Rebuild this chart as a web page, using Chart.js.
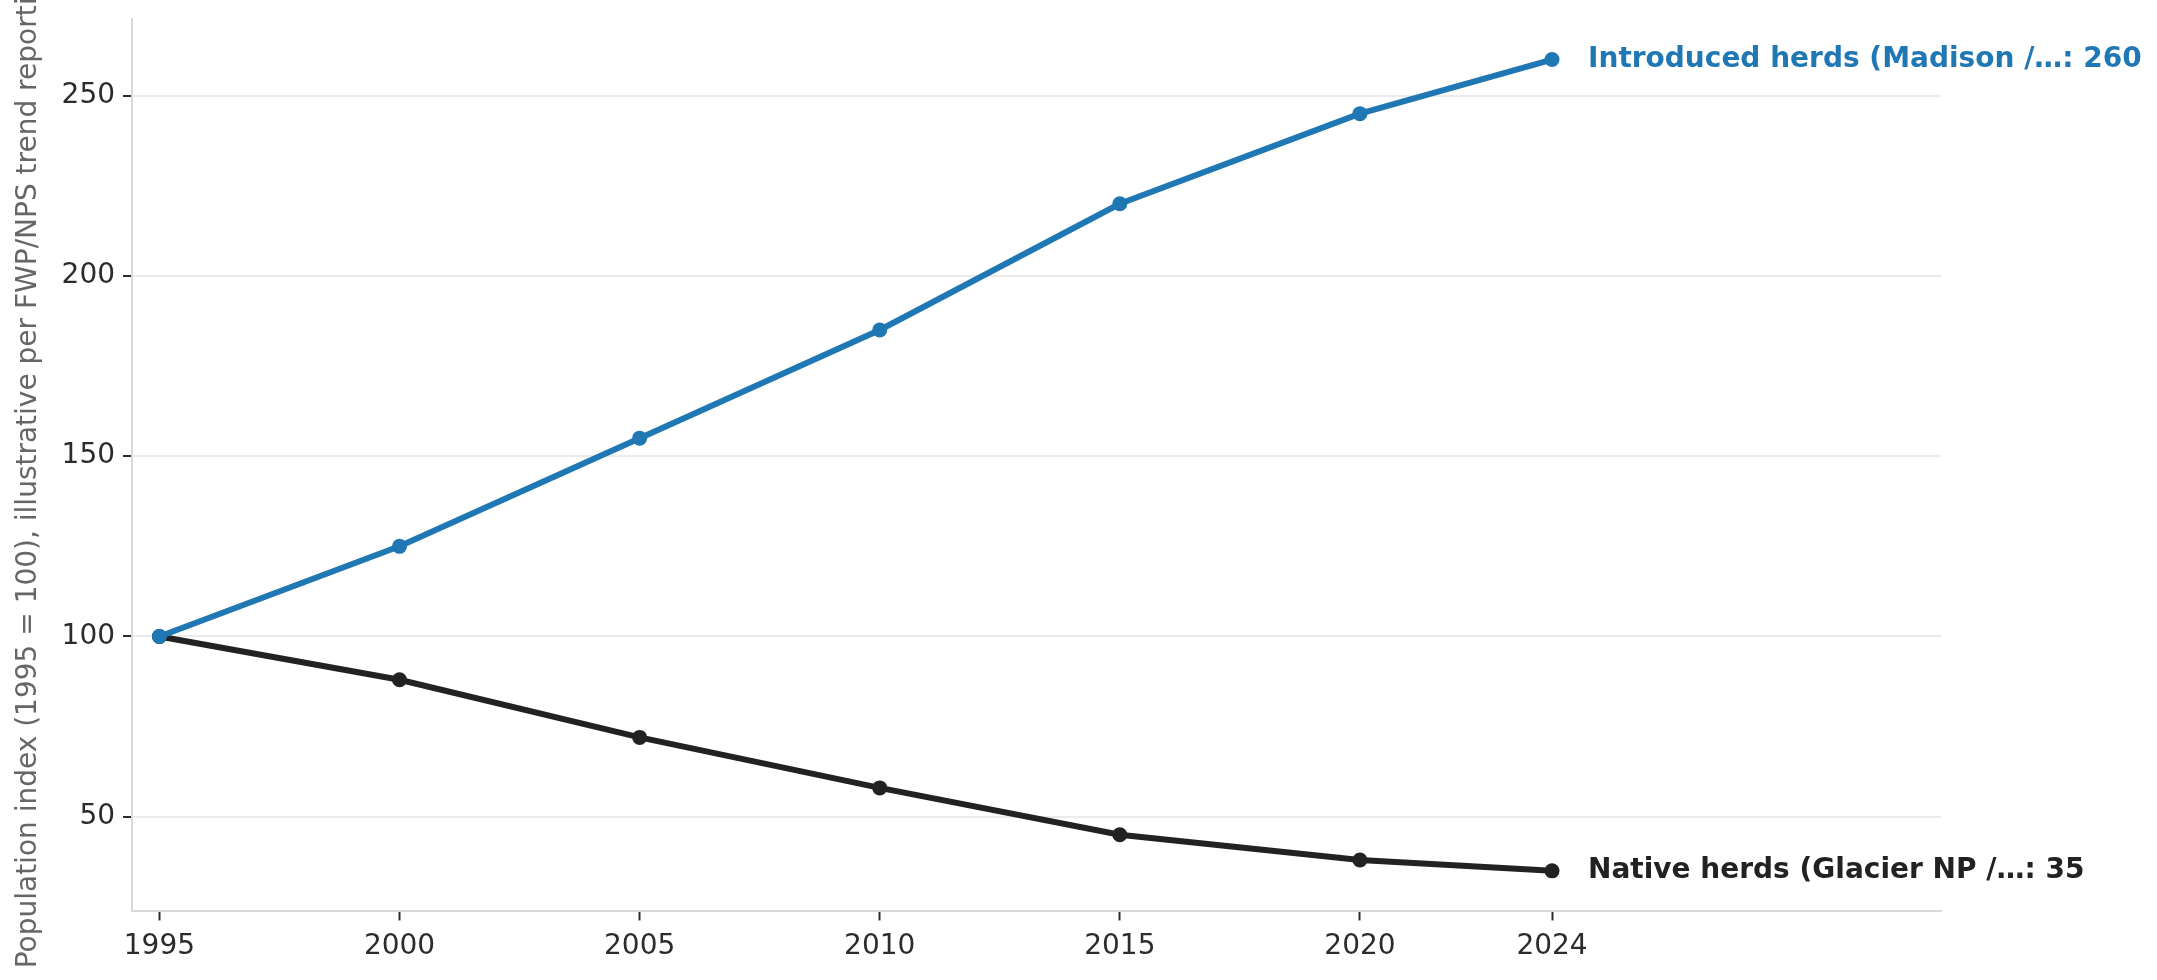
<!DOCTYPE html>
<html>
<head>
<meta charset="utf-8">
<title>Population index</title>
<script src="https://cdn.jsdelivr.net/npm/chart.js@4/dist/chart.umd.min.js"></script>
<style>
    html, body { margin: 0; padding: 0; background: #fff; }
    #wrap { width: 2157px; height: 980px; position: relative; }
</style>
</head>
<body>
<div id="wrap"><canvas id="chart"></canvas></div>
<script>
// values
const years = [1995, 2000, 2005, 2010, 2015, 2020, 2024];
const introduced = [100, 125, 155, 185, 220, 245, 260];
const native = [100, 88, 72, 58, 45, 38, 35];
const seriesNames = ["Introduced herds (Madison /…", "Native herds (Glacier NP /…"];
const yTicks = [50, 100, 150, 200, 250];
const yTitle = "Population index (1995 = 100), illustrative per FWP/NPS trend reporting";

const FONT = "'DejaVu Sans', 'Liberation Sans', sans-serif";
const BLUE = "#1f77b4";
const DARK = "#222222";

// end-of-line labels, positioned from the last point of each line
const endLabels = {
    id: "endLabels",
    afterDatasetsDraw(chart) {
        const ctx = chart.ctx;
        ctx.save();
        ctx.font = "bold 28px " + FONT;
        ctx.textBaseline = "middle";
        ctx.textAlign = "left";
        chart.data.datasets.forEach((ds, i) => {
            const pts = chart.getDatasetMeta(i).data;
            const last = pts[pts.length - 1];
            const v = ds.data[ds.data.length - 1].y;
            ctx.fillStyle = ds.borderColor;
            ctx.fillText(ds.label + ": " + v, last.x + 36, last.y);
        });
        ctx.restore();
    }
};

function toPoints(values) {
    return years.map((yr, i) => ({ x: yr, y: values[i] }));
}

new Chart(document.getElementById("chart"), {
    type: "line",
    data: {
        datasets: [
            {
                label: seriesNames[0],
                data: toPoints(introduced),
                borderColor: BLUE,
                backgroundColor: BLUE,
                borderWidth: 6,
                pointRadius: 7.5,
                pointBorderWidth: 0,
                tension: 0
            },
            {
                label: seriesNames[1],
                data: toPoints(native),
                borderColor: DARK,
                backgroundColor: DARK,
                borderWidth: 6,
                pointRadius: 7.5,
                pointBorderWidth: 0,
                tension: 0
            }
        ]
    },
    options: {
        responsive: true,
        maintainAspectRatio: false,
        devicePixelRatio: 1,
        animation: false,
        layout: { padding: { top: 19, right: 216, bottom: 6, left: 12 } },
        plugins: {
            legend: { display: false },
            tooltip: { enabled: false }
        },
        scales: {
            x: {
                type: "linear",
                min: 1994.43,
                max: 2032.1,
                afterBuildTicks: (scale) => {
                    scale.ticks = years.map(v => ({ value: v }));
                },
                ticks: {
                    color: "#2b2b2b",
                    font: { family: FONT, size: 28 },
                    padding: 10,
                    maxRotation: 0,
                    autoSkip: false,
                    callback: (v) => String(v)
                },
                grid: {
                    drawOnChartArea: false,
                    drawTicks: true,
                    tickLength: 9,
                    tickColor: "#2b2b2b",
                    tickWidth: 2
                },
                border: { display: true, color: "#d9d9d9", width: 2 }
            },
            y: {
                type: "linear",
                min: 23.75,
                max: 271.25,
                afterBuildTicks: (scale) => {
                    scale.ticks = yTicks.map(v => ({ value: v }));
                },
                // 250 sits well below the top, so no room is needed for its label
                afterFit: (scale) => {
                    scale.paddingTop = 0;
                },
                ticks: {
                    color: "#2b2b2b",
                    font: { family: FONT, size: 28 },
                    padding: 8
                },
                grid: {
                    color: "#ebebeb",
                    lineWidth: 2,
                    drawTicks: true,
                    tickLength: 9,
                    tickColor: "#2b2b2b",
                    tickWidth: 2
                },
                border: { display: true, color: "#d9d9d9", width: 2 },
                title: {
                    display: true,
                    text: yTitle,
                    color: "#666666",
                    font: { family: FONT, size: 28 },
                    padding: { top: 0, bottom: 8 }
                }
            }
        }
    },
    plugins: [endLabels]
});
</script>
</body>
</html>
